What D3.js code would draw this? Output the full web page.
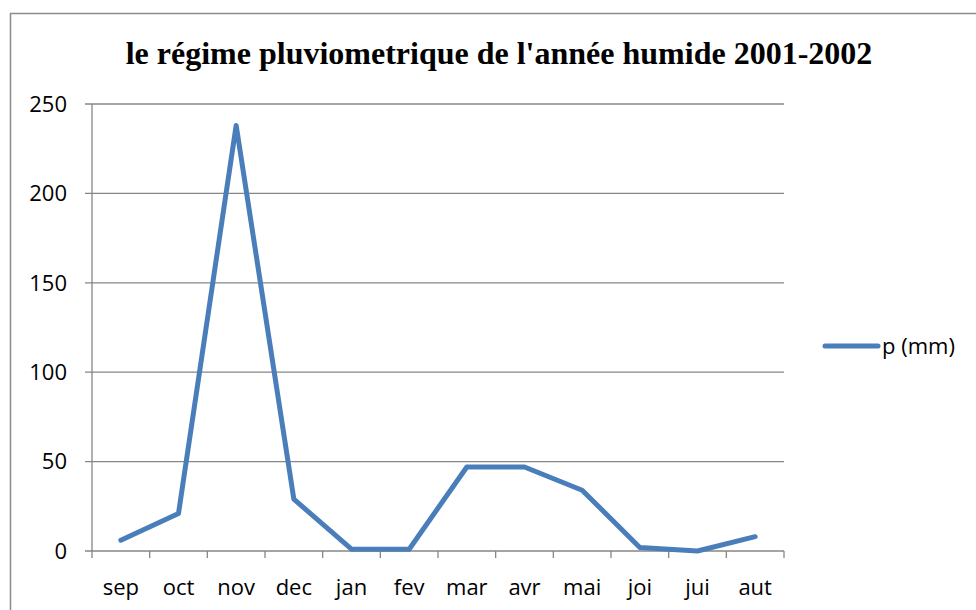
<!DOCTYPE html>
<html>
<head>
<meta charset="utf-8">
<script src="https://cdn.jsdelivr.net/npm/d3@7"></script>
<style>
  body { margin: 0; background: #fff; }
  svg { display: block; }
</style>
</head>
<body>
<div id="chart"></div>
<script>
// data
var months = ["sep", "oct", "nov", "dec", "jan", "fev", "mar", "avr", "mai", "joi", "jui", "aut"];
var rain = [6, 21, 238, 29, 1, 1, 47, 47, 34, 2, 0, 8];
var yTicks = [0, 50, 100, 150, 200, 250];
var titleText = "le régime pluviometrique de l'année humide 2001-2002";
var seriesName = "p (mm)";

var W = 976, H = 610;
var margin = {top: 104, right: 192, bottom: 59, left: 92};
var width = W - margin.left - margin.right,
    height = H - margin.top - margin.bottom;

var svg = d3.select("#chart")
  .append("svg")
    .attr("width", W)
    .attr("height", H);

// chart frame
svg.append("rect")
  .attr("x", 10.5)
  .attr("y", 13.5)
  .attr("width", W)
  .attr("height", H)
  .attr("fill", "none")
  .attr("stroke", "#8c8c8c")
  .attr("stroke-width", 1.5);

svg.append("text")
  .attr("x", 499)
  .attr("y", 64)
  .attr("text-anchor", "middle")
  .style("font-family", "'Liberation Serif', 'Times New Roman', serif")
  .style("font-weight", "bold")
  .style("font-size", "32px")
  .text(titleText);

var g = svg.append("g")
  .attr("transform", "translate(" + margin.left + "," + margin.top + ")");

var x = d3.scaleBand()
  .domain(months)
  .range([0, width]);

var y = d3.scaleLinear()
  .domain([0, 250])
  .range([height, 0]);

var labelFont = "'Open Sans', 'Noto Sans', sans-serif";
var labelSize = "22px";

// gridlines
g.selectAll(".grid")
  .data(yTicks)
  .enter()
  .append("line")
    .attr("class", "grid")
    .attr("x1", -7)
    .attr("x2", width)
    .attr("y1", function(d) { return y(d); })
    .attr("y2", function(d) { return y(d); })
    .attr("stroke", "#868686")
    .attr("stroke-width", 1.3);

// y axis line
g.append("line")
  .attr("x1", 0).attr("x2", 0)
  .attr("y1", 0).attr("y2", height)
  .attr("stroke", "#868686")
  .attr("stroke-width", 1.3);

g.selectAll(".ylab")
  .data(yTicks)
  .enter()
  .append("text")
    .attr("class", "ylab")
    .attr("x", -25)
    .attr("y", function(d) { return y(d); })
    .attr("dy", "0.35em")
    .attr("text-anchor", "end")
    .style("font-family", labelFont)
    .style("font-size", labelSize)
    .text(function(d) { return d; });

// x tick marks between categories
var xEdges = months.map(function(m) { return x(m); }).concat([width]);
g.selectAll(".xtick")
  .data(xEdges)
  .enter()
  .append("line")
    .attr("class", "xtick")
    .attr("x1", function(d) { return d; })
    .attr("x2", function(d) { return d; })
    .attr("y1", height)
    .attr("y2", height + 7)
    .attr("stroke", "#868686")
    .attr("stroke-width", 1.3);

g.selectAll(".xlab")
  .data(months)
  .enter()
  .append("text")
    .attr("class", "xlab")
    .attr("x", function(d) { return x(d) + x.bandwidth() / 2; })
    .attr("y", height + 44)
    .attr("text-anchor", "middle")
    .style("font-family", labelFont)
    .style("font-size", labelSize)
    .text(function(d) { return d; });

var line = d3.line()
  .x(function(d, i) { return x(months[i]) + x.bandwidth() / 2; })
  .y(function(d) { return y(d); });

g.append("path")
  .datum(rain)
  .attr("fill", "none")
  .attr("stroke", "#4a7ebb")
  .attr("stroke-width", 5)
  .attr("stroke-linejoin", "round")
  .attr("stroke-linecap", "round")
  .attr("d", line);

// legend
var legend = svg.append("g")
  .attr("transform", "translate(825,346)");

legend.append("line")
  .attr("x1", 0).attr("x2", 53)
  .attr("y1", 0).attr("y2", 0)
  .attr("stroke", "#4a7ebb")
  .attr("stroke-width", 5)
  .attr("stroke-linecap", "round");

legend.append("text")
  .attr("x", 57)
  .attr("y", 0)
  .attr("dy", "0.35em")
  .style("font-family", labelFont)
  .style("font-size", labelSize)
  .text(seriesName);
</script>
</body>
</html>
